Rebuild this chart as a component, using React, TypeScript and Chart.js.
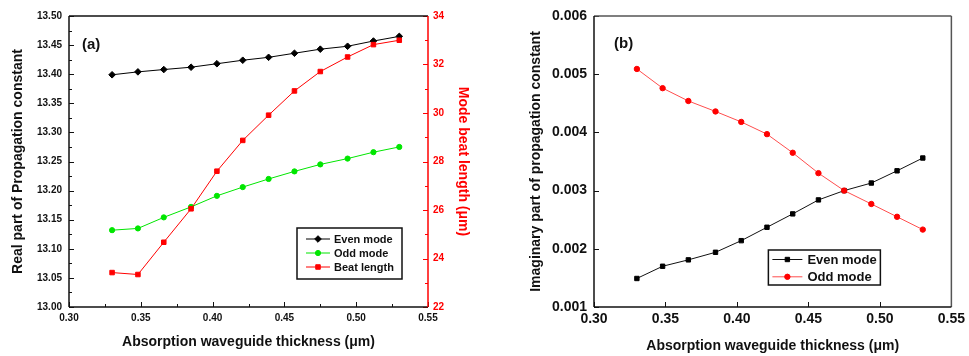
import React, { useEffect, useRef } from 'react';
import { Chart, registerables } from 'chart.js';

Chart.register(...registerables);

// ---------- data ----------
const thickness = [0.33, 0.348, 0.366, 0.385, 0.403, 0.421, 0.439, 0.457, 0.475, 0.494, 0.512, 0.53];
const realEven = [13.399, 13.404, 13.408, 13.412, 13.418, 13.424, 13.429, 13.436, 13.443, 13.448, 13.457, 13.465];
const realOdd = [13.132, 13.135, 13.154, 13.172, 13.191, 13.206, 13.22, 13.233, 13.245, 13.255, 13.266, 13.275];
const beatLength = [23.42, 23.34, 24.67, 26.05, 27.6, 28.87, 29.91, 30.91, 31.71, 32.31, 32.82, 33.0];
const imagEven = [0.00149, 0.0017, 0.00181, 0.00194, 0.00214, 0.00237, 0.0026, 0.00284, 0.003, 0.00313, 0.00334, 0.00356];
const imagOdd = [0.00509, 0.00476, 0.00454, 0.00436, 0.00418, 0.00397, 0.00365, 0.0033, 0.003, 0.00277, 0.00255, 0.00233];

const xTitle = 'Absorption waveguide thickness (\u03bcm)';
const yTitleA = 'Real part of Propagation constant';
const y1TitleA = 'Mode beat length (\u03bcm)';
const yTitleB = 'Imaginary part of propagation constant';

const FONT = "'Liberation Sans', Arial, Helvetica, sans-serif";

const pts = (ys: number[]) => thickness.map((x, i) => ({ x, y: ys[i] }));

// ---------- helpers ----------
function marker(ctx: CanvasRenderingContext2D, style: string, x: number, y: number, r: number, color: string) {
  ctx.save();
  ctx.fillStyle = color;
  ctx.strokeStyle = color;
  ctx.lineWidth = 1;
  ctx.beginPath();
  if (style === 'circle') {
    ctx.arc(x, y, r, 0, Math.PI * 2);
  } else if (style === 'rect') {
    const s = Math.SQRT1_2 * r;
    ctx.rect(x - s, y - s, 2 * s, 2 * s);
  } else {
    ctx.moveTo(x - r, y);
    ctx.lineTo(x, y - r);
    ctx.lineTo(x + r, y);
    ctx.lineTo(x, y + r);
    ctx.closePath();
  }
  ctx.fill();
  ctx.stroke();
  ctx.restore();
}

type Side = 'left' | 'right' | 'top' | 'bottom';
interface FrameSpec {
  lines: { side: Side; color: string; width: number }[];
  ticks: { id: string; side: Side; color: string; major: number; minor: number }[];
  panel: { text: string; dx: number; dy: number };
  legend: { right: number; bottom: number; w: number; h: number; rowTop: number; rowGap: number; lineX0: number; lineX1: number; textX: number; font: number };
}

function framePlugin(spec: FrameSpec) {
  return {
    id: 'frame',
    afterDraw(chart: any) {
      const ctx: CanvasRenderingContext2D = chart.ctx;
      const a = chart.chartArea;
      ctx.save();
      // ticks
      for (const t of spec.ticks) {
        const s = chart.scales[t.id];
        const vals: number[] = s.ticks.map((k: any) => k.value);
        const list: [number, number][] = vals.map((v) => [v, t.major]);
        if (t.minor > 0) {
          for (let i = 0; i < vals.length - 1; i++) list.push([(vals[i] + vals[i + 1]) / 2, t.minor]);
        }
        ctx.strokeStyle = t.color;
        ctx.lineWidth = 1;
        for (const [v, len] of list) {
          const p = Math.round(s.getPixelForValue(v)) + 0.5;
          ctx.beginPath();
          if (t.side === 'left') { ctx.moveTo(a.left, p); ctx.lineTo(a.left + len, p); }
          else if (t.side === 'right') { ctx.moveTo(a.right, p); ctx.lineTo(a.right - len, p); }
          else { ctx.moveTo(p, a.bottom); ctx.lineTo(p, a.bottom - len); }
          ctx.stroke();
        }
      }
      // frame lines
      for (const l of spec.lines) {
        ctx.strokeStyle = l.color;
        ctx.lineWidth = l.width;
        ctx.beginPath();
        if (l.side === 'left') { ctx.moveTo(a.left, a.top); ctx.lineTo(a.left, a.bottom); }
        if (l.side === 'right') { ctx.moveTo(a.right, a.top); ctx.lineTo(a.right, a.bottom); }
        if (l.side === 'top') { ctx.moveTo(a.left, a.top); ctx.lineTo(a.right, a.top); }
        if (l.side === 'bottom') { ctx.moveTo(a.left, a.bottom); ctx.lineTo(a.right, a.bottom); }
        ctx.stroke();
      }
      // panel label
      ctx.fillStyle = '#111';
      ctx.font = `bold 15px ${FONT}`;
      ctx.textAlign = 'left';
      ctx.textBaseline = 'middle';
      ctx.fillText(spec.panel.text, a.left + spec.panel.dx, a.top + spec.panel.dy);
      // legend
      const L = spec.legend;
      const bx = a.right - L.right - L.w;
      const by = a.bottom - L.bottom - L.h;
      ctx.fillStyle = '#fff';
      ctx.fillRect(bx, by, L.w, L.h);
      ctx.strokeStyle = '#111';
      ctx.lineWidth = 1.5;
      ctx.strokeRect(bx, by, L.w, L.h);
      chart.data.datasets.forEach((ds: any, i: number) => {
        const y = by + L.rowTop + i * L.rowGap;
        ctx.strokeStyle = ds.borderColor;
        ctx.lineWidth = 1;
        ctx.beginPath();
        ctx.moveTo(bx + L.lineX0, y);
        ctx.lineTo(bx + L.lineX1, y);
        ctx.stroke();
        marker(ctx, ds.pointStyle, bx + (L.lineX0 + L.lineX1) / 2, y, ds.pointRadius, ds.pointBackgroundColor);
        ctx.fillStyle = '#111';
        ctx.font = `bold ${L.font}px ${FONT}`;
        ctx.textAlign = 'left';
        ctx.textBaseline = 'middle';
        ctx.fillText(ds.label, bx + L.textX, y + 0.5);
      });
      ctx.restore();
    },
  };
}

const hiddenGrid = { display: false, drawTicks: false };

function configA(): any {
  return {
    type: 'line',
    data: {
      datasets: [
        { label: 'Even mode', data: pts(realEven), yAxisID: 'y', borderColor: '#000', backgroundColor: '#000', pointBackgroundColor: '#000', pointBorderColor: '#000', pointStyle: 'rectRot', pointRadius: 3.3, borderWidth: 1, pointBorderWidth: 1, order: 2 },
        { label: 'Odd mode', data: pts(realOdd), yAxisID: 'y', borderColor: '#00e600', backgroundColor: '#00e600', pointBackgroundColor: '#00e600', pointBorderColor: '#00e600', pointStyle: 'circle', pointRadius: 2.6, borderWidth: 1, pointBorderWidth: 1, order: 3 },
        { label: 'Beat length', data: pts(beatLength), yAxisID: 'y1', borderColor: '#ff0000', backgroundColor: '#ff0000', pointBackgroundColor: '#ff0000', pointBorderColor: '#ff0000', pointStyle: 'rect', pointRadius: 3.2, borderWidth: 1, pointBorderWidth: 1, order: 1 },
      ],
    },
    options: {
      responsive: false,
      animation: false,
      devicePixelRatio: 1,
      layout: { padding: { top: 16, left: 0, right: 0, bottom: 0 } },
      plugins: { legend: { display: false }, tooltip: { enabled: false } },
      elements: { line: { tension: 0 } },
      scales: {
        x: {
          type: 'linear', min: 0.3, max: 0.55,
          ticks: { stepSize: 0.05, autoSkip: false, maxRotation: 0, padding: 5, color: '#111', font: { family: FONT, size: 10, weight: 'bold' }, callback: (v: any) => Number(v).toFixed(2) },
          grid: hiddenGrid, border: { display: false },
          title: { display: true, text: xTitle, color: '#111', font: { family: FONT, size: 14, weight: 'bold' }, padding: { top: 0, bottom: 5 } },
          afterFit: (s: any) => { s.height = 49; },
        },
        y: {
          type: 'linear', position: 'left', min: 13.0, max: 13.5,
          ticks: { stepSize: 0.05, autoSkip: false, padding: 7, color: '#111', font: { family: FONT, size: 10, weight: 'bold' }, callback: (v: any) => Number(v).toFixed(2) },
          grid: hiddenGrid, border: { display: false },
          title: { display: true, text: yTitleA, color: '#111', font: { family: FONT, size: 14, weight: 'bold' }, padding: { top: 10, bottom: 0 } },
          afterFit: (s: any) => { s.width = 69; },
        },
        y1: {
          type: 'linear', position: 'right', min: 22, max: 34,
          ticks: { stepSize: 2, autoSkip: false, padding: 5, color: '#ff0000', font: { family: FONT, size: 10, weight: 'bold' }, callback: (v: any) => String(Math.round(Number(v))) },
          grid: hiddenGrid, border: { display: false },
          title: { display: true, text: y1TitleA, color: '#ff0000', font: { family: FONT, size: 14, weight: 'bold' }, padding: { top: 19, bottom: 0 } },
          afterFit: (s: any) => { s.width = 62; },
        },
      },
    },
    plugins: [
      framePlugin({
        lines: [
          { side: 'top', color: '#111', width: 1.5 },
          { side: 'left', color: '#111', width: 1.5 },
          { side: 'bottom', color: '#111', width: 1.5 },
          { side: 'right', color: '#ff0000', width: 1.5 },
        ],
        ticks: [
          { id: 'y', side: 'left', color: '#111', major: 5, minor: 3 },
          { id: 'y1', side: 'right', color: '#ff0000', major: 5, minor: 3 },
          { id: 'x', side: 'bottom', color: '#111', major: 5, minor: 3 },
        ],
        panel: { text: '(a)', dx: 13, dy: 29 },
        legend: { right: 26, bottom: 28, w: 105, h: 51, rowTop: 11, rowGap: 14, lineX0: 9, lineX1: 33, textX: 37, font: 11 },
      }),
    ],
  };
}

function configB(): any {
  return {
    type: 'line',
    data: {
      datasets: [
        { label: 'Even mode', data: pts(imagEven), borderColor: '#111', backgroundColor: '#000', pointBackgroundColor: '#000', pointBorderColor: '#000', pointStyle: 'rect', pointRadius: 3.1, borderWidth: 1, pointBorderWidth: 1, order: 2 },
        { label: 'Odd mode', data: pts(imagOdd), borderColor: '#ff4d4d', backgroundColor: '#ff0000', pointBackgroundColor: '#ff0000', pointBorderColor: '#ff0000', pointStyle: 'circle', pointRadius: 2.7, borderWidth: 1, pointBorderWidth: 1, order: 1 },
      ],
    },
    options: {
      responsive: false,
      animation: false,
      devicePixelRatio: 1,
      layout: { padding: { top: 16, left: 0, right: 14, bottom: 0 } },
      plugins: { legend: { display: false }, tooltip: { enabled: false } },
      elements: { line: { tension: 0 } },
      scales: {
        x: {
          type: 'linear', min: 0.3, max: 0.55,
          ticks: { stepSize: 0.05, autoSkip: false, maxRotation: 0, padding: 4, color: '#111', font: { family: FONT, size: 14, weight: 'bold' }, callback: (v: any) => Number(v).toFixed(2) },
          grid: hiddenGrid, border: { display: false },
          title: { display: true, text: xTitle, color: '#111', font: { family: FONT, size: 14, weight: 'bold' }, padding: { top: 0, bottom: 1 } },
          afterFit: (s: any) => { s.height = 49; },
        },
        y: {
          type: 'linear', position: 'left', min: 0.001, max: 0.006,
          ticks: { stepSize: 0.001, autoSkip: false, padding: 7, color: '#111', font: { family: FONT, size: 14, weight: 'bold' }, callback: (v: any) => Number(v).toFixed(3) },
          grid: hiddenGrid, border: { display: false },
          title: { display: true, text: yTitleB, color: '#111', font: { family: FONT, size: 14, weight: 'bold' }, padding: { top: 38, bottom: 0 } },
          afterFit: (s: any) => { s.width = 104; },
        },
      },
    },
    plugins: [
      framePlugin({
        lines: [
          { side: 'top', color: '#555', width: 1.5 },
          { side: 'right', color: '#555', width: 1.5 },
          { side: 'left', color: '#111', width: 1.5 },
          { side: 'bottom', color: '#111', width: 1.5 },
        ],
        ticks: [
          { id: 'y', side: 'left', color: '#111', major: 5, minor: 0 },
          { id: 'x', side: 'bottom', color: '#111', major: 5, minor: 0 },
        ],
        panel: { text: '(b)', dx: 20, dy: 28 },
        legend: { right: 71, bottom: 22, w: 112, h: 35, rowTop: 9.5, rowGap: 17.3, lineX0: 4, lineX1: 34, textX: 39, font: 13 },
      }),
    ],
  };
}

function ChartCanvas({ width, height, left, makeConfig }: { width: number; height: number; left: number; makeConfig: () => any }) {
  const ref = useRef<HTMLCanvasElement>(null);
  useEffect(() => {
    const chart = new Chart(ref.current as HTMLCanvasElement, makeConfig());
    return () => chart.destroy();
  }, []);
  return (
    <canvas
      ref={ref}
      width={width}
      height={height}
      style={{ position: 'absolute', left, top: 0, width, height, display: 'block' }}
    />
  );
}

export default function App() {
  return (
    <div style={{ position: 'fixed', left: 0, top: 0, width: 969, height: 356, background: '#fff', overflow: 'hidden' }}>
      <ChartCanvas width={490} height={356} left={0} makeConfig={configA} />
      <ChartCanvas width={479} height={356} left={490} makeConfig={configB} />
    </div>
  );
}
